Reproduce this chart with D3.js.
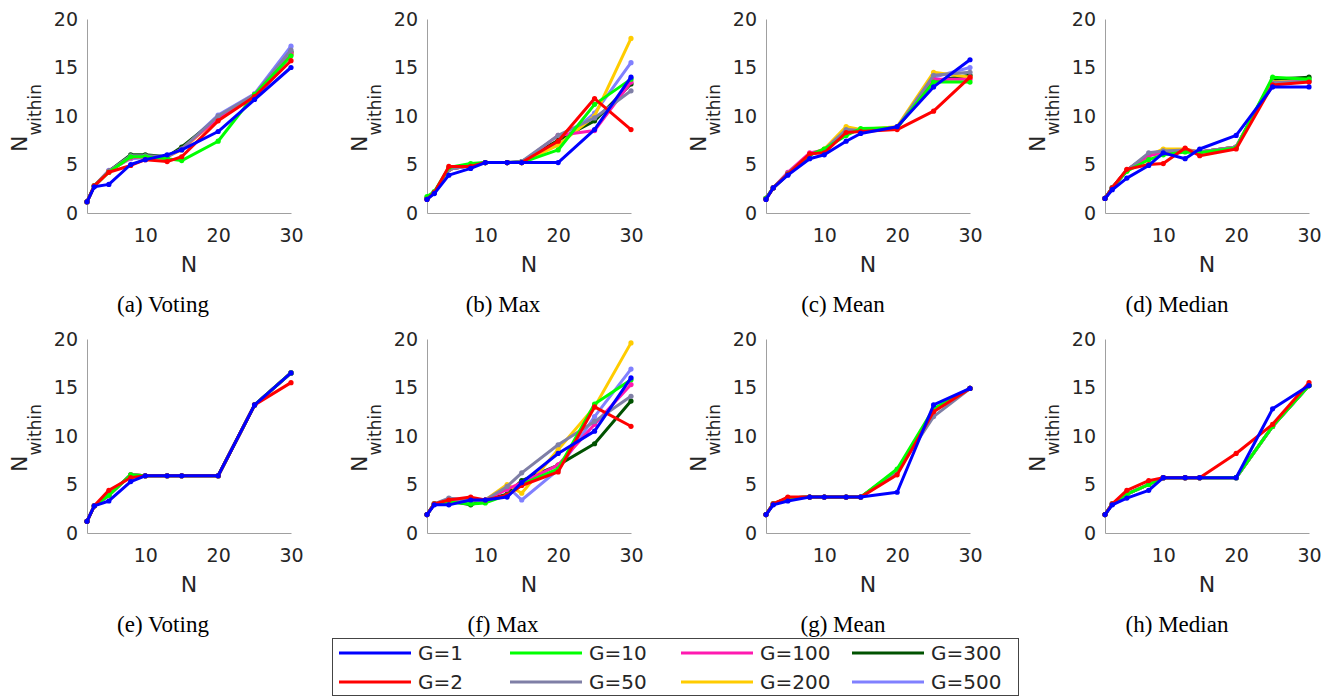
<!DOCTYPE html>
<html>
<head>
<meta charset="utf-8">
<script src="https://cdn.jsdelivr.net/npm/d3@7"></script>
<style>
  html, body { margin: 0; padding: 0; background: #fff; }
  svg { display: block; }
</style>
</head>
<body>
<svg id="chart" width="1330" height="696"></svg>
<script>
// ---------------- DATA ----------------
const N = [2, 3, 5, 8, 10, 13, 15, 20, 25, 30];
const groups = ["G=1", "G=2", "G=10", "G=50", "G=100", "G=200", "G=300", "G=500"];
const groupColors = ["#0000ff", "#ff0000", "#00ff00", "#7f7fa6", "#ff19b0", "#ffcc00", "#005200", "#8080ff"];
const xTicks = [10, 20, 30];
const yTicks = [0, 5, 10, 15, 20];
const captions = ["(a) Voting", "(b) Max", "(c) Mean", "(d) Median",
                  "(e) Voting", "(f) Max", "(g) Mean", "(h) Median"];

// each panel: one series per group, in the order of `groups`
const votingTop = [
  [1.15, 2.7, 2.95, 5.0, 5.5, 6.0, 6.5, 8.4, 11.7, 15.0],
  [1.15, 2.8, 4.2, 4.9, 5.5, 5.3, 5.8, 9.5, 12.0, 15.7],
  [1.15, 2.8, 4.2, 5.8, 5.8, 5.6, 5.4, 7.4, 12.2, 16.2],
  [1.15, 2.8, 4.3, 5.9, 5.9, 5.8, 6.6, 10.0, 12.2, 16.8],
  [1.15, 2.8, 4.3, 5.7, 5.8, 5.8, 6.6, 9.8, 12.2, 16.4],
  [1.15, 2.8, 4.3, 5.7, 5.8, 5.8, 6.5, 9.8, 12.2, 16.4],
  [1.15, 2.8, 4.3, 6.0, 6.0, 5.8, 6.8, 9.8, 12.0, 16.6],
  [1.15, 2.8, 4.4, 5.6, 5.7, 5.8, 6.6, 10.1, 12.3, 17.2]
];
const maxTop = [
  [1.4, 2.0, 3.9, 4.6, 5.2, 5.2, 5.2, 5.2, 8.6, 14.0],
  [1.4, 2.1, 4.8, 4.8, 5.2, 5.2, 5.2, 7.4, 11.8, 8.6],
  [1.7, 2.2, 4.7, 5.1, 5.2, 5.2, 5.2, 6.5, 11.2, 13.8],
  [1.5, 2.1, 4.5, 4.9, 5.2, 5.2, 5.3, 8.0, 9.8, 12.6],
  [1.5, 2.1, 4.5, 4.9, 5.2, 5.2, 5.2, 8.0, 8.5, 13.5],
  [1.5, 2.1, 4.5, 4.9, 5.2, 5.2, 5.2, 7.0, 10.0, 18.0],
  [1.5, 2.1, 4.5, 4.9, 5.2, 5.2, 5.3, 7.5, 9.5, 13.3],
  [1.5, 2.1, 4.5, 4.9, 5.2, 5.2, 5.2, 7.2, 10.3, 15.5]
];
const meanTop = [
  [1.4, 2.6, 3.9, 5.6, 6.0, 7.4, 8.2, 8.9, 13.0, 15.8],
  [1.4, 2.6, 4.0, 6.1, 6.2, 8.3, 8.4, 8.6, 10.5, 14.0],
  [1.5, 2.6, 4.0, 6.0, 6.6, 8.0, 8.7, 8.8, 13.5, 13.5],
  [1.5, 2.6, 4.1, 6.0, 6.5, 8.6, 8.5, 8.8, 14.2, 14.5],
  [1.5, 2.6, 4.2, 6.2, 6.5, 8.5, 8.5, 8.8, 13.8, 13.8],
  [1.5, 2.6, 4.1, 6.0, 6.6, 8.9, 8.6, 8.9, 14.5, 14.0],
  [1.5, 2.6, 4.0, 6.0, 6.5, 8.3, 8.6, 8.8, 13.6, 14.2],
  [1.5, 2.6, 4.1, 6.0, 6.5, 8.6, 8.5, 8.8, 14.0, 15.0]
];
const medianTop = [
  [1.5, 2.4, 3.6, 4.9, 6.2, 5.6, 6.6, 8.0, 13.0, 13.0],
  [1.5, 2.6, 4.5, 5.0, 5.1, 6.7, 5.9, 6.6, 13.2, 13.5],
  [1.5, 2.6, 4.3, 5.5, 6.0, 6.3, 6.2, 6.7, 14.0, 13.8],
  [1.5, 2.6, 4.4, 6.2, 6.4, 6.5, 6.3, 6.8, 13.4, 13.6],
  [1.5, 2.6, 4.4, 5.9, 6.2, 6.5, 6.3, 6.8, 13.4, 13.6],
  [1.5, 2.6, 4.4, 5.9, 6.6, 6.6, 6.3, 6.8, 13.5, 13.6],
  [1.5, 2.6, 4.4, 6.0, 6.3, 6.5, 6.3, 6.8, 13.8, 14.0],
  [1.5, 2.6, 4.4, 6.0, 6.3, 6.5, 6.3, 6.8, 13.5, 13.6]
];
const votingBottom = [
  [1.2, 2.8, 3.3, 5.3, 5.9, 5.9, 5.9, 5.9, 13.2, 16.5],
  [1.2, 2.8, 4.4, 5.7, 5.9, 5.9, 5.9, 5.9, 13.2, 15.5],
  [1.2, 2.8, 3.9, 6.0, 5.9, 5.9, 5.9, 5.9, 13.2, 16.5],
  [1.2, 2.8, 3.9, 6.0, 5.9, 5.9, 5.9, 5.9, 13.2, 16.5],
  [1.2, 2.8, 3.9, 6.0, 5.9, 5.9, 5.9, 5.9, 13.2, 16.5],
  [1.2, 2.8, 3.9, 6.0, 5.9, 5.9, 5.9, 5.9, 13.2, 16.5],
  [1.2, 2.8, 3.9, 6.0, 5.9, 5.9, 5.9, 5.9, 13.2, 16.5],
  [1.2, 2.8, 3.9, 6.0, 5.9, 5.9, 5.9, 5.9, 13.2, 16.5]
];
const maxBottom = [
  [1.9, 2.9, 2.9, 3.4, 3.4, 3.7, 5.2, 8.2, 10.5, 16.0],
  [1.9, 3.0, 3.4, 3.7, 3.4, 3.9, 4.9, 6.3, 13.0, 11.0],
  [1.9, 3.0, 3.2, 3.0, 3.1, 3.9, 5.0, 6.6, 13.3, 15.8],
  [1.9, 3.0, 3.6, 3.3, 3.4, 4.8, 6.2, 9.1, 11.5, 14.1],
  [1.9, 3.0, 3.4, 3.4, 3.4, 4.5, 5.2, 7.0, 11.2, 15.3],
  [1.9, 3.0, 3.4, 3.4, 3.4, 5.0, 4.1, 8.6, 13.0, 19.6],
  [1.9, 3.0, 3.3, 2.9, 3.4, 4.0, 5.4, 7.0, 9.2, 13.6],
  [1.9, 3.0, 3.5, 3.5, 3.4, 4.8, 3.4, 6.5, 12.0, 16.9]
];
const meanBottom = [
  [1.9, 2.9, 3.3, 3.7, 3.7, 3.7, 3.7, 4.2, 13.2, 14.9],
  [1.9, 3.0, 3.7, 3.7, 3.7, 3.7, 3.7, 6.0, 12.5, 14.9],
  [1.9, 3.0, 3.6, 3.7, 3.7, 3.7, 3.7, 6.6, 12.8, 14.9],
  [1.9, 3.0, 3.6, 3.7, 3.7, 3.7, 3.7, 6.3, 12.0, 14.9],
  [1.9, 3.0, 3.6, 3.7, 3.7, 3.7, 3.7, 6.4, 12.6, 14.9],
  [1.9, 3.0, 3.6, 3.7, 3.7, 3.7, 3.7, 6.4, 12.6, 14.9],
  [1.9, 3.0, 3.6, 3.7, 3.7, 3.7, 3.7, 6.4, 12.6, 14.9],
  [1.9, 3.0, 3.6, 3.7, 3.7, 3.7, 3.7, 6.4, 12.6, 14.9]
];
const medianBottom = [
  [1.9, 2.9, 3.6, 4.4, 5.7, 5.7, 5.7, 5.7, 12.8, 15.2],
  [1.9, 3.0, 4.4, 5.4, 5.7, 5.7, 5.7, 8.2, 11.2, 15.5],
  [1.9, 3.0, 4.0, 5.0, 5.7, 5.7, 5.7, 5.7, 11.0, 15.2],
  [1.9, 3.0, 4.0, 5.0, 5.7, 5.7, 5.7, 5.7, 11.0, 15.2],
  [1.9, 3.0, 4.0, 5.0, 5.7, 5.7, 5.7, 5.7, 11.0, 15.2],
  [1.9, 3.0, 4.0, 5.0, 5.7, 5.7, 5.7, 5.7, 11.0, 15.2],
  [1.9, 3.0, 4.0, 5.0, 5.7, 5.7, 5.7, 5.7, 11.0, 15.2],
  [1.9, 3.0, 4.0, 5.0, 5.7, 5.7, 5.7, 5.7, 11.0, 15.2]
];
const panels = [votingTop, maxTop, meanTop, medianTop,
                votingBottom, maxBottom, meanBottom, medianBottom];

// ---------------- LAYOUT ----------------
const colLeft = [87, 427, 766, 1105];
const plotW = 204;
const rowTop = [19, 339];
const plotH = 194;
const captionX = [163, 503, 843, 1177];
const sansFont = "'DejaVu Sans', sans-serif";
const serifFont = "'Liberation Serif', 'Times New Roman', serif";
const axisColor = "#a0a0a0";
const textColor = "#262626";

const svg = d3.select("#chart");

panels.forEach((series, p) => {
  const col = p % 4, row = Math.floor(p / 4);
  const x0 = colLeft[col], y0 = rowTop[row];
  const x = d3.scaleLinear().domain([2, 30]).range([x0, x0 + plotW]);
  const y = d3.scaleLinear().domain([0, 20]).range([y0 + plotH, y0]);
  const g = svg.append("g");

  // axes
  const xa = g.append("g").attr("transform", `translate(0,${y0 + plotH})`)
    .call(d3.axisBottom(x).tickValues(xTicks).tickSize(0).tickPadding(16).tickFormat(d3.format("d")));
  const ya = g.append("g").attr("transform", `translate(${x0},0)`)
    .call(d3.axisLeft(y).tickValues(yTicks).tickSize(0).tickPadding(9).tickFormat(d3.format("d")));
  [xa, ya].forEach(a => {
    a.select(".domain").attr("stroke", axisColor).attr("stroke-width", 1);
    a.selectAll("text").attr("font-family", sansFont).attr("font-size", 19).attr("fill", textColor);
  });

  // lines: draw in reverse so G=1 ends on top
  const line = d3.line().x((d, i) => x(N[i])).y(d => y(d));
  const order = d3.range(groups.length).reverse();
  order.forEach(k => {
    const vals = series[k];
    g.append("path").datum(vals)
      .attr("d", line)
      .attr("fill", "none")
      .attr("stroke", groupColors[k])
      .attr("stroke-width", 3)
      .attr("stroke-linejoin", "round")
      .attr("stroke-linecap", "round");
    g.selectAll(null).data(vals).enter().append("circle")
      .attr("cx", (d, i) => x(N[i]))
      .attr("cy", d => y(d))
      .attr("r", 2.6)
      .attr("fill", groupColors[k]);
  });

  // x label
  g.append("text")
    .attr("x", x0 + plotW / 2).attr("y", y0 + plotH + 59)
    .attr("text-anchor", "middle")
    .attr("font-family", sansFont).attr("font-size", 22).attr("fill", textColor)
    .text("N");

  // y label with subscript
  const yl = g.append("text")
    .attr("transform", `translate(${x0 - 60},${y0 + plotH / 2 + 2}) rotate(-90)`)
    .attr("text-anchor", "middle")
    .attr("font-family", sansFont).attr("fill", textColor);
  yl.append("tspan").attr("font-size", 22).text("N");
  yl.append("tspan").attr("font-size", 17).attr("dy", 14).text("within");

  // caption
  svg.append("text")
    .attr("x", captionX[col]).attr("y", y0 + plotH + 99)
    .attr("text-anchor", "middle")
    .attr("font-family", serifFont).attr("font-size", 23).attr("fill", "#000")
    .text(captions[p]);
});

// ---------------- LEGEND ----------------
const legX = 332, legY = 638, legW = 686, legH = 57;
const legCols = [339, 510, 681, 852];
const legRows = [653, 682];
const leg = svg.append("g");
leg.append("rect").attr("x", legX + 0.5).attr("y", legY + 0.5)
  .attr("width", legW).attr("height", legH)
  .attr("fill", "#fff").attr("stroke", "#444").attr("stroke-width", 1);
groups.forEach((name, k) => {
  const cx = legCols[Math.floor(k / 2)], cy = legRows[k % 2];
  leg.append("line").attr("x1", cx).attr("x2", cx + 72).attr("y1", cy).attr("y2", cy)
    .attr("stroke", groupColors[k]).attr("stroke-width", 3);
  leg.append("text").attr("x", cx + 79).attr("y", cy).attr("dy", "0.36em")
    .attr("font-family", sansFont).attr("font-size", 20).attr("fill", textColor)
    .text(name);
});
</script>
</body>
</html>
